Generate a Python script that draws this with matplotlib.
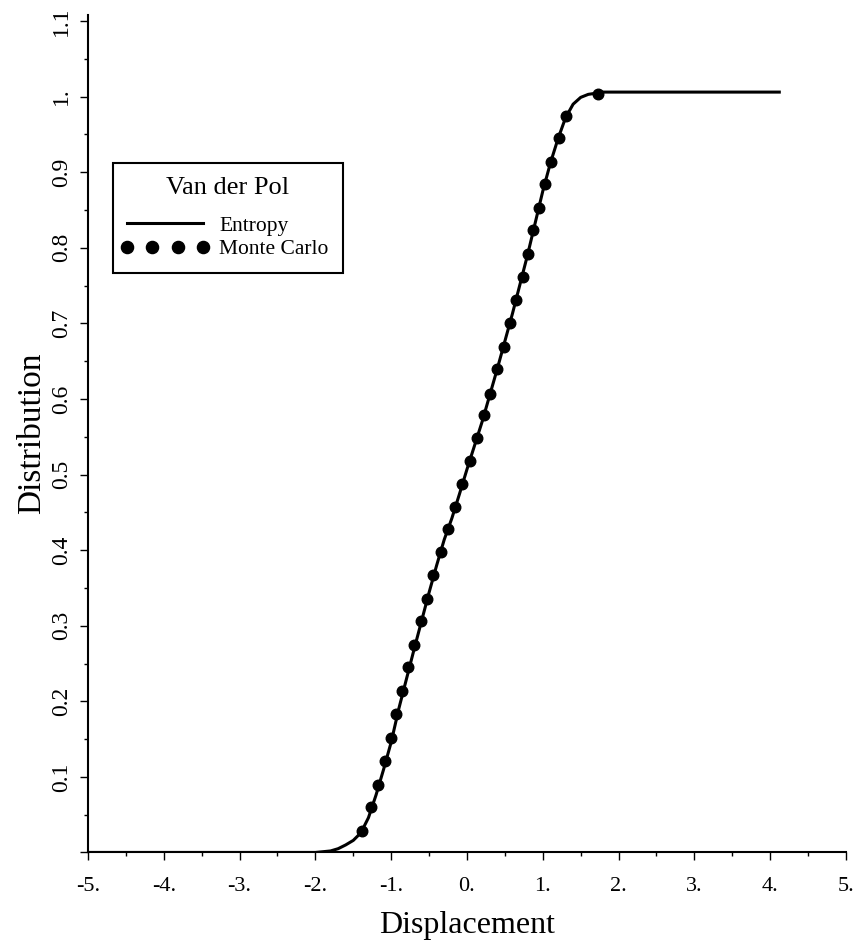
import matplotlib
matplotlib.use("Agg")
import matplotlib.pyplot as plt
from matplotlib.legend_handler import HandlerLine2D
from matplotlib.ticker import MultipleLocator

plt.rcParams['font.family'] = ['Liberation Serif', 'DejaVu Serif']

# Entropy (maximum entropy) distribution curve
entropy_x = [-5.0, -2.0, -1.8, -1.7, -1.6, -1.5, -1.4, -1.3, -1.2, -1.1, -1.0,
             -0.9, -0.8, -0.7, -0.6, -0.5, -0.4, -0.3, -0.2, -0.1, 0.0,
             0.2, 0.4, 0.6, 0.8, 1.0, 1.1, 1.2, 1.3, 1.4, 1.5, 1.6, 1.8, 4.12]
entropy_y = [0.0, 0.0, 0.002, 0.005, 0.010, 0.016, 0.026, 0.046, 0.076, 0.110, 0.146,
             0.190, 0.229, 0.268, 0.306, 0.344, 0.380, 0.414, 0.442, 0.474, 0.507,
             0.570, 0.640, 0.713, 0.791, 0.875, 0.912, 0.944, 0.972, 0.990, 0.999, 1.003, 1.006, 1.006]

# Monte Carlo samples
mc_x = [-1.387, -1.266, -1.178, -1.082, -1.004, -0.933, -0.851, -0.772, -0.698, -0.611,
        -0.533, -0.445, -0.349, -0.253, -0.161, -0.062, 0.035, 0.131, 0.226, 0.305,
        0.393, 0.493, 0.567, 0.645, 0.733, 0.802, 0.873, 0.952, 1.025, 1.113,
        1.208, 1.309, 1.724]
mc_y = [0.029, 0.060, 0.089, 0.121, 0.151, 0.183, 0.214, 0.245, 0.275, 0.306,
        0.336, 0.367, 0.398, 0.428, 0.457, 0.487, 0.518, 0.548, 0.579, 0.607,
        0.639, 0.669, 0.700, 0.731, 0.762, 0.792, 0.823, 0.853, 0.884, 0.914,
        0.945, 0.975, 1.004]

x_ticks = [-5, -4, -3, -2, -1, 0, 1, 2, 3, 4, 5]
x_tick_labels = ["-5.", "-4.", "-3.", "-2.", "-1.", "0.", "1.", "2.", "3.", "4.", "5."]
y_ticks = [0.0, 0.1, 0.2, 0.3, 0.4, 0.5, 0.6, 0.7, 0.8, 0.9, 1.0, 1.1]
y_tick_labels = ["", "0.1", "0.2", "0.3", "0.4", "0.5", "0.6", "0.7", "0.8", "0.9", "1.", "1.1"]

fig = plt.figure(figsize=(8.56, 9.43), dpi=100)
ax = fig.add_axes([0.1028, 0.096, 0.8855, 0.8881])

ln, = ax.plot(entropy_x, entropy_y, color='black', lw=2.2, label='Entropy', zorder=2)
pts, = ax.plot(mc_x, mc_y, linestyle='none', marker='o', ms=7.6, color='black',
               label='Monte Carlo', zorder=3)

ax.set_xlim(-5, 5)
ax.set_ylim(0, 1.108)
ax.spines['top'].set_visible(False)
ax.spines['right'].set_visible(False)
ax.spines['left'].set_linewidth(1.5)
ax.spines['bottom'].set_linewidth(1.5)

ax.set_xticks(x_ticks)
ax.set_xticklabels(x_tick_labels)
ax.set_yticks(y_ticks)
ax.set_yticklabels(y_tick_labels)
ax.xaxis.set_minor_locator(MultipleLocator(0.5))
ax.yaxis.set_minor_locator(MultipleLocator(0.05))
ax.tick_params(which='major', direction='out', length=5.5, width=1.0)
ax.tick_params(which='minor', direction='out', length=3, width=1.0)
ax.tick_params(axis='x', which='major', pad=12, labelsize=16)
ax.tick_params(axis='y', which='major', pad=6, labelrotation=90, labelsize=17)
for lab in ax.get_yticklabels():
    lab.set_verticalalignment('center')

ax.set_xlabel('Displacement', fontsize=23, labelpad=11)
ax.set_ylabel('Distribution', fontsize=24, labelpad=3)

leg = ax.legend(handles=[ln, pts], title='Van der Pol', loc='upper left',
                bbox_to_anchor=(0.0327, 0.823), borderaxespad=0,
                fontsize=15.5, title_fontsize=19, handlelength=3.55,
                handletextpad=0.75, labelspacing=0.15, borderpad=0.65,
                fancybox=False, framealpha=1, edgecolor='black',
                markerscale=1.15,
                handler_map={pts: HandlerLine2D(numpoints=4, marker_pad=0)})
leg.get_frame().set_linewidth(1.5)
leg._legend_box.sep = 12

fig.savefig('out.png', dpi=100)
